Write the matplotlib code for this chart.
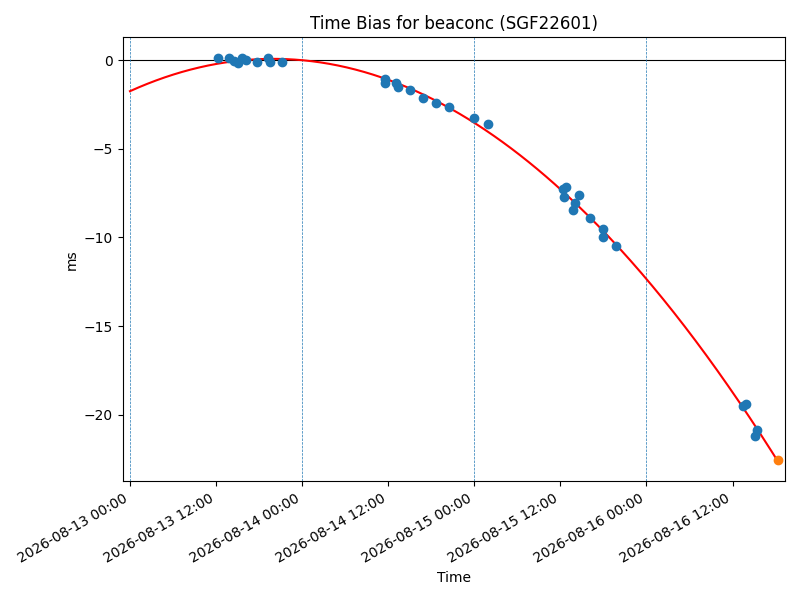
import numpy as np
import pandas as pd
import matplotlib
matplotlib.use("Agg")
import matplotlib.pyplot as plt
import matplotlib.dates as mdates

# Measured time bias points (blue)
times = [
    "2026-08-13 12:19", "2026-08-13 13:49", "2026-08-13 14:30", "2026-08-13 15:04",
    "2026-08-13 15:40", "2026-08-13 16:09", "2026-08-13 17:39", "2026-08-13 19:15",
    "2026-08-13 19:29", "2026-08-13 21:15",
    "2026-08-14 11:35", "2026-08-14 11:35", "2026-08-14 13:05", "2026-08-14 13:26",
    "2026-08-14 15:02", "2026-08-14 16:47", "2026-08-14 18:39", "2026-08-14 20:31",
    "2026-08-15 00:00", "2026-08-15 01:51",
    "2026-08-15 12:19", "2026-08-15 12:48", "2026-08-15 12:34", "2026-08-15 14:33",
    "2026-08-15 14:05", "2026-08-15 13:43", "2026-08-15 16:09", "2026-08-15 17:54",
    "2026-08-15 17:54", "2026-08-15 19:46",
    "2026-08-16 13:26", "2026-08-16 13:55", "2026-08-16 15:23", "2026-08-16 15:04",
]
bias_ms = [
    0.11, 0.15, -0.06, -0.17, 0.10, 0.00, -0.08, 0.10, -0.13, -0.08,
    -1.05, -1.28, -1.28, -1.52, -1.69, -2.12, -2.40, -2.62, -3.28, -3.61,
    -7.26, -7.13, -7.73, -7.62, -8.05, -8.43, -8.89, -9.50, -9.98, -10.50,
    -19.49, -19.38, -20.84, -21.18,
]
# Predicted point (orange)
pred_time = ["2026-08-16 18:19"]
pred_ms = [-22.58]

fit_start = "2026-08-13 00:00"
day_lines = ["2026-08-13", "2026-08-14", "2026-08-15", "2026-08-16"]

t = pd.to_datetime(times)
tp = pd.to_datetime(pred_time)
t0 = pd.Timestamp(fit_start)

days = np.array((t - t0).total_seconds() / 86400.0)
coef = np.polyfit(days, np.array(bias_ms), 2)
tend = (tp[0] - t0).total_seconds() / 86400.0
tt = np.linspace(0, tend, 300)
curve_t = [t0 + pd.Timedelta(days=float(d)) for d in tt]

fig, ax = plt.subplots(figsize=(8, 6), dpi=100)
ax.axhline(0, color="black", lw=0.8)
for d in day_lines:
    ax.axvline(pd.Timestamp(d), color="C0", ls="--", lw=0.5)
ax.plot(curve_t, np.polyval(coef, tt), color="red")
ax.scatter(t, bias_ms, color="C0", zorder=3)
ax.scatter(tp, pred_ms, color="C1", zorder=3)

ax.set_xlim(t0 - pd.Timedelta(hours=1), tp[0] + pd.Timedelta(hours=1))
ax.xaxis.set_major_locator(mdates.HourLocator(byhour=[0, 12]))
ax.xaxis.set_major_formatter(mdates.DateFormatter("%Y-%m-%d %H:%M"))
ax.set_title("Time Bias for beaconc (SGF22601)")
ax.set_xlabel("Time")
ax.set_ylabel("ms")
fig.autofmt_xdate()
fig.tight_layout()
fig.savefig("out.png")
print(coef)
